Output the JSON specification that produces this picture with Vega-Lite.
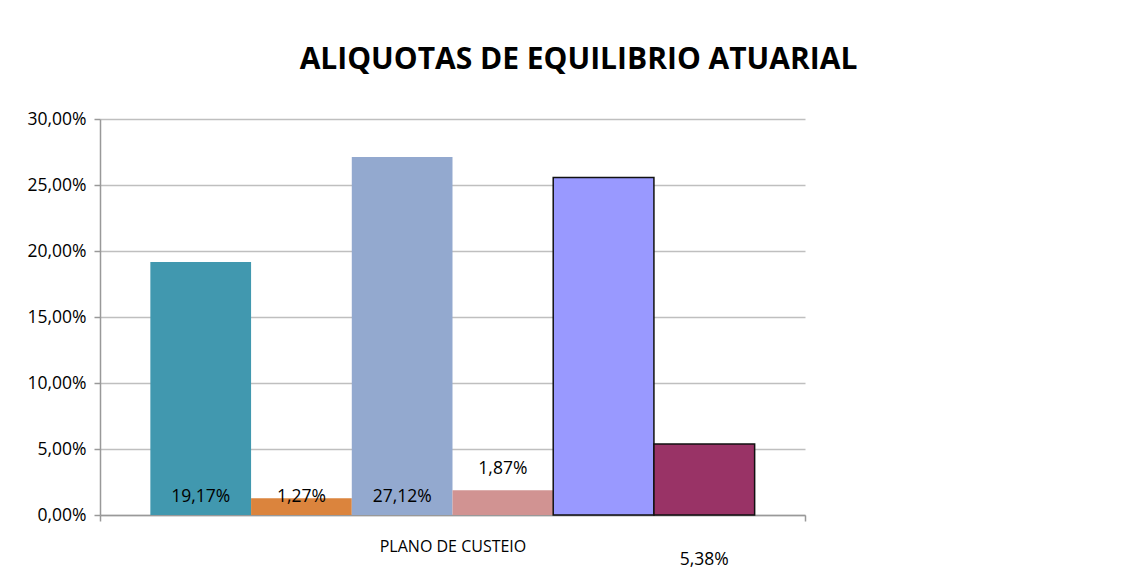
{
  "$schema": "https://vega.github.io/schema/vega-lite/v6.json",
  "autosize": {"type": "none"},
  "width": 705,
  "height": 396,
  "padding": {"left": 100, "top": 119, "right": 324, "bottom": 54},
  "background": "white",
  "config": {
    "locale": {"number": {"decimal": ",", "thousands": ".", "grouping": [3], "currency": ["R$", ""]}},
    "view": {"stroke": null},
    "font": "Open Sans"
  },
  "title": {
    "text": "ALIQUOTAS DE EQUILIBRIO ATUARIAL",
    "font": "Open Sans",
    "fontSize": 30,
    "fontWeight": "bold",
    "color": "#000000",
    "anchor": "middle",
    "dx": 126,
    "baseline": "alphabetic",
    "offset": 11
  },
  "data": {
    "values": [
      {"categoria": "PLANO DE CUSTEIO", "serie": "Serie 1", "valor": 0.1917},
      {"categoria": "PLANO DE CUSTEIO", "serie": "Serie 2", "valor": 0.0127},
      {"categoria": "PLANO DE CUSTEIO", "serie": "Serie 3", "valor": 0.2712},
      {"categoria": "PLANO DE CUSTEIO", "serie": "Serie 4", "valor": 0.0187},
      {"categoria": "PLANO DE CUSTEIO", "serie": "Serie 5", "valor": 0.2557},
      {"categoria": "PLANO DE CUSTEIO", "serie": "Serie 6", "valor": 0.0538}
    ]
  },
  "encoding": {
    "x": {
      "field": "categoria",
      "type": "nominal",
      "scale": {"paddingInner": 0, "paddingOuter": 0},
      "axis": {
        "title": null,
        "labelAngle": 0,
        "labelFont": "Open Sans",
        "labelFontSize": 16,
        "labelColor": "#000000",
        "labelPadding": 17,
        "tickBand": "extent",
        "tickSize": 6,
        "tickColor": "#999999",
        "domainColor": "#999999",
        "domainWidth": 1.5,
        "tickWidth": 1.5
      }
    },
    "xOffset": {
      "field": "serie",
      "type": "nominal",
      "scale": {"paddingInner": 0, "paddingOuter": 0.5}
    }
  },
  "layer": [
    {
      "mark": {"type": "bar", "strokeWidth": 1.5},
      "encoding": {
        "y": {
          "field": "valor",
          "type": "quantitative",
          "scale": {"domain": [0, 0.3], "nice": false},
          "axis": {
            "title": null,
            "format": ".2%",
            "values": [0, 0.05, 0.1, 0.15, 0.2, 0.25, 0.3],
            "labelFont": "Open Sans",
            "labelFontSize": 17.5,
            "labelColor": "#000000",
            "labelPadding": 8,
            "tickSize": 6,
            "tickColor": "#999999",
            "tickWidth": 1.5,
            "domainColor": "#999999",
            "domainWidth": 1.5,
            "gridColor": "#bfbfbf",
            "gridWidth": 1.5
          }
        },
        "color": {
          "field": "serie",
          "type": "nominal",
          "scale": {
            "domain": ["Serie 1", "Serie 2", "Serie 3", "Serie 4", "Serie 5", "Serie 6"],
            "range": ["#4198AF", "#DB843D", "#93A9CF", "#D19392", "#9999FF", "#993366"]
          },
          "legend": null
        },
        "stroke": {
          "condition": {"test": "datum.serie == 'Serie 5' || datum.serie == 'Serie 6'", "value": "#111111"},
          "value": null
        }
      }
    },
    {
      "transform": [{"filter": "datum.serie == 'Serie 1' || datum.serie == 'Serie 2' || datum.serie == 'Serie 3'"}],
      "mark": {"type": "text", "font": "Open Sans", "fontSize": 17.5, "color": "#000000", "baseline": "middle", "dy": -18},
      "encoding": {
        "y": {"datum": 0, "type": "quantitative"},
        "text": {"field": "valor", "type": "quantitative", "format": ".2%"}
      }
    },
    {
      "transform": [{"filter": "datum.serie == 'Serie 4'"}],
      "mark": {"type": "text", "font": "Open Sans", "fontSize": 17.5, "color": "#000000", "baseline": "middle", "dy": -21},
      "encoding": {
        "y": {"field": "valor", "type": "quantitative"},
        "text": {"field": "valor", "type": "quantitative", "format": ".2%"}
      }
    },
    {
      "transform": [{"filter": "datum.serie == 'Serie 6'"}],
      "mark": {"type": "text", "font": "Open Sans", "fontSize": 17.5, "color": "#000000", "baseline": "middle", "dy": 45},
      "encoding": {
        "y": {"datum": 0, "type": "quantitative"},
        "text": {"field": "valor", "type": "quantitative", "format": ".2%"}
      }
    }
  ]
}
